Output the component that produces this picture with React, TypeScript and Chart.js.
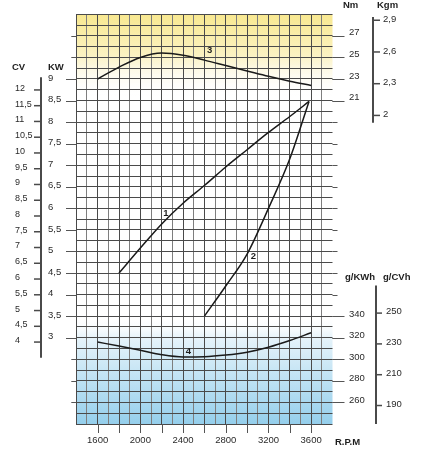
import React, { useEffect, useRef } from 'react';
import { Chart, registerables, type Plugin, type ChartConfiguration } from 'chart.js';

Chart.register(...registerables);

// Engine speed, R.P.M
const torqueRpm = [1600, 1800, 2000, 2200, 2400, 2600, 2800, 3000, 3200, 3400, 3600];
// Curve 3: torque, Nm
const torqueNm = [23.0, 24.1, 25.0, 25.4, 25.2, 24.75, 24.25, 23.75, 23.25, 22.8, 22.4];

// Curve 1: power, KW
const power1Rpm = [1800, 2000, 2200, 2400, 2600, 2800, 3000, 3200, 3400, 3580];
const power1Kw = [4.5, 5.08, 5.64, 6.12, 6.53, 6.96, 7.36, 7.76, 8.13, 8.48];

// Curve 2: power, KW
const power2Rpm = [2600, 2800, 3000, 3200, 3400, 3580];
const power2Kw = [3.5, 4.2, 4.94, 6.0, 7.15, 8.48];

// Curve 4: specific consumption, g/KWh
const consRpm = [1600, 1800, 2000, 2200, 2400, 2600, 2800, 3000, 3200, 3400, 3600];
const consGkwh = [316, 312.3, 308.4, 304.3, 302.2, 302.4, 303.9, 306.6, 311.2, 317.4, 324.7];

// Tick labels
const rpmLabels = [1600, 2000, 2400, 2800, 3200, 3600];
const rpmTicks = [1600, 1800, 2000, 2200, 2400, 2600, 2800, 3000, 3200, 3400, 3600];
const kwTicks = [9, 8.5, 8, 7.5, 7, 6.5, 6, 5.5, 5, 4.5, 4, 3.5, 3];
const cvTicks = [12, 11.5, 11, 10.5, 10, 9.5, 9, 8.5, 8, 7.5, 7, 6.5, 6, 5.5, 5, 4.5, 4];
const nmTicks = [27, 25, 23, 21];
const kgmTicks = [2.9, 2.6, 2.3, 2];
const gKwhTicks = [340, 320, 300, 280, 260];
const gCvhTicks = [250, 230, 210, 190];
const majorKw = [1.5, 2, 2.5, 3, 3.5, 4, 4.5, 5, 5.5, 6, 6.5, 7, 7.5, 8, 8.5, 9, 9.5, 10];

// Curve numbers
const curveLabels = [
  { text: '3', rpm: 2650, value: 25.7, axis: 'yNm' },
  { text: '1', rpm: 2240, value: 5.89, axis: 'y' },
  { text: '2', rpm: 3060, value: 4.88, axis: 'y' },
  { text: '4', rpm: 2450, value: 307.7, axis: 'yG' }
];

const FONT = '"Liberation Sans", Arial, sans-serif';
const fmt = (v: number) => String(v).replace('.', ',');

const enginePlugin: Plugin = {
  id: 'engineAxes',
  beforeDraw(chart) {
    const { ctx, chartArea: a, scales } = chart;
    const y = scales.y;
    ctx.save();
    // yellow band at the top
    const yTop = y.getPixelForValue(10.5);
    const yEnd = y.getPixelForValue(8.6);
    const g1 = ctx.createLinearGradient(0, yTop, 0, yEnd);
    g1.addColorStop(0, '#f8e890');
    g1.addColorStop(0.5, '#fbf2c2');
    g1.addColorStop(1, 'rgba(255,255,255,0)');
    ctx.fillStyle = g1;
    ctx.fillRect(a.left, yTop, a.width, yEnd - yTop);
    // blue band at the bottom
    const bTop = y.getPixelForValue(3.5);
    const bEnd = y.getPixelForValue(1);
    const g2 = ctx.createLinearGradient(0, bTop, 0, bEnd);
    g2.addColorStop(0, 'rgba(255,255,255,0)');
    g2.addColorStop(0.2, '#e6f3fa');
    g2.addColorStop(1, '#95cfec');
    ctx.fillStyle = g2;
    ctx.fillRect(a.left, bTop, a.width, bEnd - bTop);
    ctx.restore();
  },
  afterDraw(chart) {
    const { ctx, chartArea: a, scales } = chart;
    const x = scales.x;
    const y = scales.y;
    const yNm = scales.yNm;
    const yKgm = scales.yKgm;
    const yG = scales.yG;
    const yCV = scales.yCV;
    const yCVh = scales.yCVh;

    ctx.save();
    ctx.strokeStyle = '#555';
    ctx.lineWidth = 1;
    const line = (x0: number, y0: number, x1: number, y1: number) => {
      ctx.beginPath();
      ctx.moveTo(x0, y0);
      ctx.lineTo(x1, y1);
      ctx.stroke();
    };

    // short extensions of major grid lines
    majorKw.forEach((v) => {
      const py = Math.round(y.getPixelForValue(v)) + 0.5;
      line(a.left - 5, py, a.left, py);
      line(a.right, py, a.right + 5, py);
    });
    kwTicks.forEach((v) => {
      const py = Math.round(y.getPixelForValue(v)) + 0.5;
      line(66, py, a.left, py);
    });
    nmTicks.forEach((v) => {
      const py = Math.round(yNm.getPixelForValue(v)) + 0.5;
      line(a.right, py, a.right + 12, py);
    });
    gKwhTicks.forEach((v) => {
      const py = Math.round(yG.getPixelForValue(v)) + 0.5;
      line(a.right, py, a.right + 12, py);
    });
    rpmTicks.forEach((v) => {
      const px = Math.round(x.getPixelForValue(v)) + 0.5;
      line(px, a.bottom, px, a.bottom + 9);
    });

    // separate axes: CV, Kgm, g/CVh
    ctx.strokeStyle = '#4a4a4a';
    ctx.lineWidth = 2;
    line(41, yCV.getPixelForValue(12.4), 41, yCV.getPixelForValue(3.5));
    line(373, yKgm.getPixelForValue(2.93), 373, yKgm.getPixelForValue(1.93));
    line(376, yCVh.getPixelForValue(268), 376, yCVh.getPixelForValue(178));
    ctx.lineWidth = 1.5;
    cvTicks.forEach((v) => {
      const py = yCV.getPixelForValue(v);
      line(34, py, 41, py);
    });
    kgmTicks.forEach((v) => {
      const py = yKgm.getPixelForValue(v);
      line(373, py, 380, py);
    });
    gCvhTicks.forEach((v) => {
      const py = yCVh.getPixelForValue(v);
      line(376, py, 382, py);
    });

    // numbers
    ctx.fillStyle = '#2a2a2a';
    ctx.textBaseline = 'middle';
    ctx.textAlign = 'left';
    ctx.font = `9px ${FONT}`;
    cvTicks.forEach((v) => ctx.fillText(fmt(v), 15, yCV.getPixelForValue(v) - 1.5));
    ctx.font = `9.5px ${FONT}`;
    kwTicks.forEach((v) => ctx.fillText(fmt(v), 48, y.getPixelForValue(v) - 1));
    nmTicks.forEach((v) => ctx.fillText(fmt(v), 349, yNm.getPixelForValue(v) - 3));
    gKwhTicks.forEach((v) => ctx.fillText(fmt(v), 349, yG.getPixelForValue(v) - 2));
    kgmTicks.forEach((v) => ctx.fillText(fmt(v), 383, yKgm.getPixelForValue(v) - 1));
    gCvhTicks.forEach((v) => ctx.fillText(fmt(v), 386, yCVh.getPixelForValue(v) - 1.5));
    ctx.textAlign = 'center';
    rpmLabels.forEach((v) => ctx.fillText(String(v), x.getPixelForValue(v), 440.5));

    // axis titles
    ctx.font = `bold 9.5px ${FONT}`;
    ctx.fillStyle = '#1e1e1e';
    ctx.textAlign = 'left';
    ctx.fillText('CV', 12, 67.5);
    ctx.fillText('KW', 48, 67.5);
    ctx.fillText('Nm', 343, 5.5);
    ctx.fillText('Kgm', 377, 5.5);
    ctx.fillText('g/KWh', 345, 277);
    ctx.fillText('g/CVh', 383, 277);
    ctx.fillText('R.P.M', 335, 442);

    // curve numbers
    ctx.textAlign = 'center';
    curveLabels.forEach((l) => {
      ctx.fillText(l.text, x.getPixelForValue(l.rpm), scales[l.axis].getPixelForValue(l.value));
    });
    ctx.restore();
  }
};

const toPoints = (xs: number[], ys: number[]) => xs.map((v, i) => ({ x: v, y: ys[i] }));

const curveStyle = {
  borderColor: '#1a1a1a',
  borderWidth: 1.5,
  pointRadius: 0,
  fill: false,
  cubicInterpolationMode: 'monotone' as const
};

const App: React.FC = () => {
  const canvasRef = useRef<HTMLCanvasElement>(null);

  useEffect(() => {
    if (!canvasRef.current) return;
    const hidden = { display: false };
    const config: ChartConfiguration<'line'> = {
      type: 'line',
      data: {
        datasets: [
          { ...curveStyle, data: toPoints(torqueRpm, torqueNm), yAxisID: 'yNm' },
          { ...curveStyle, data: toPoints(power1Rpm, power1Kw), yAxisID: 'y' },
          { ...curveStyle, data: toPoints(power2Rpm, power2Kw), yAxisID: 'y' },
          { ...curveStyle, data: toPoints(consRpm, consGkwh), yAxisID: 'yG' }
        ]
      },
      options: {
        responsive: true,
        maintainAspectRatio: false,
        animation: false,
        layout: { padding: { left: 76.3, right: 89.5, top: 14.3, bottom: 26 } },
        plugins: { legend: { display: false }, tooltip: { enabled: false } },
        scales: {
          x: {
            type: 'linear',
            min: 1400,
            max: 3800,
            ticks: { display: false, stepSize: 100 },
            border: { display: false },
            grid: {
              drawTicks: false,
              lineWidth: 1,
              color: (c) => {
                const v = c.tick.value;
                if (v === 3800) return 'rgba(0,0,0,0)';
                return v % 200 === 0 ? '#4a4a4a' : '#7e7e7e';
              }
            }
          },
          y: {
            type: 'linear',
            position: 'left',
            min: 1,
            max: 10.5,
            ticks: { display: false, stepSize: 0.25 },
            border: { display: false },
            grid: { drawTicks: false, color: '#4a4a4a', lineWidth: 1 }
          },
          yNm: { type: 'linear', min: -9, max: 29, ...hidden },
          yKgm: { type: 'linear', min: -9 / 9.81, max: 29 / 9.81, ...hidden },
          yG: { type: 'linear', min: 240, max: 620, ...hidden },
          yCV: { type: 'linear', min: 1.4, max: 14.4, ...hidden },
          yCVh: { type: 'linear', min: 178, max: 444, ...hidden }
        }
      },
      plugins: [enginePlugin]
    };
    const chart = new Chart(canvasRef.current, config);
    return () => chart.destroy();
  }, []);

  return (
    <div style={{ position: 'absolute', left: 0, top: 0, width: 422, height: 450, background: '#fff' }}>
      <canvas ref={canvasRef} />
    </div>
  );
};

export default App;
